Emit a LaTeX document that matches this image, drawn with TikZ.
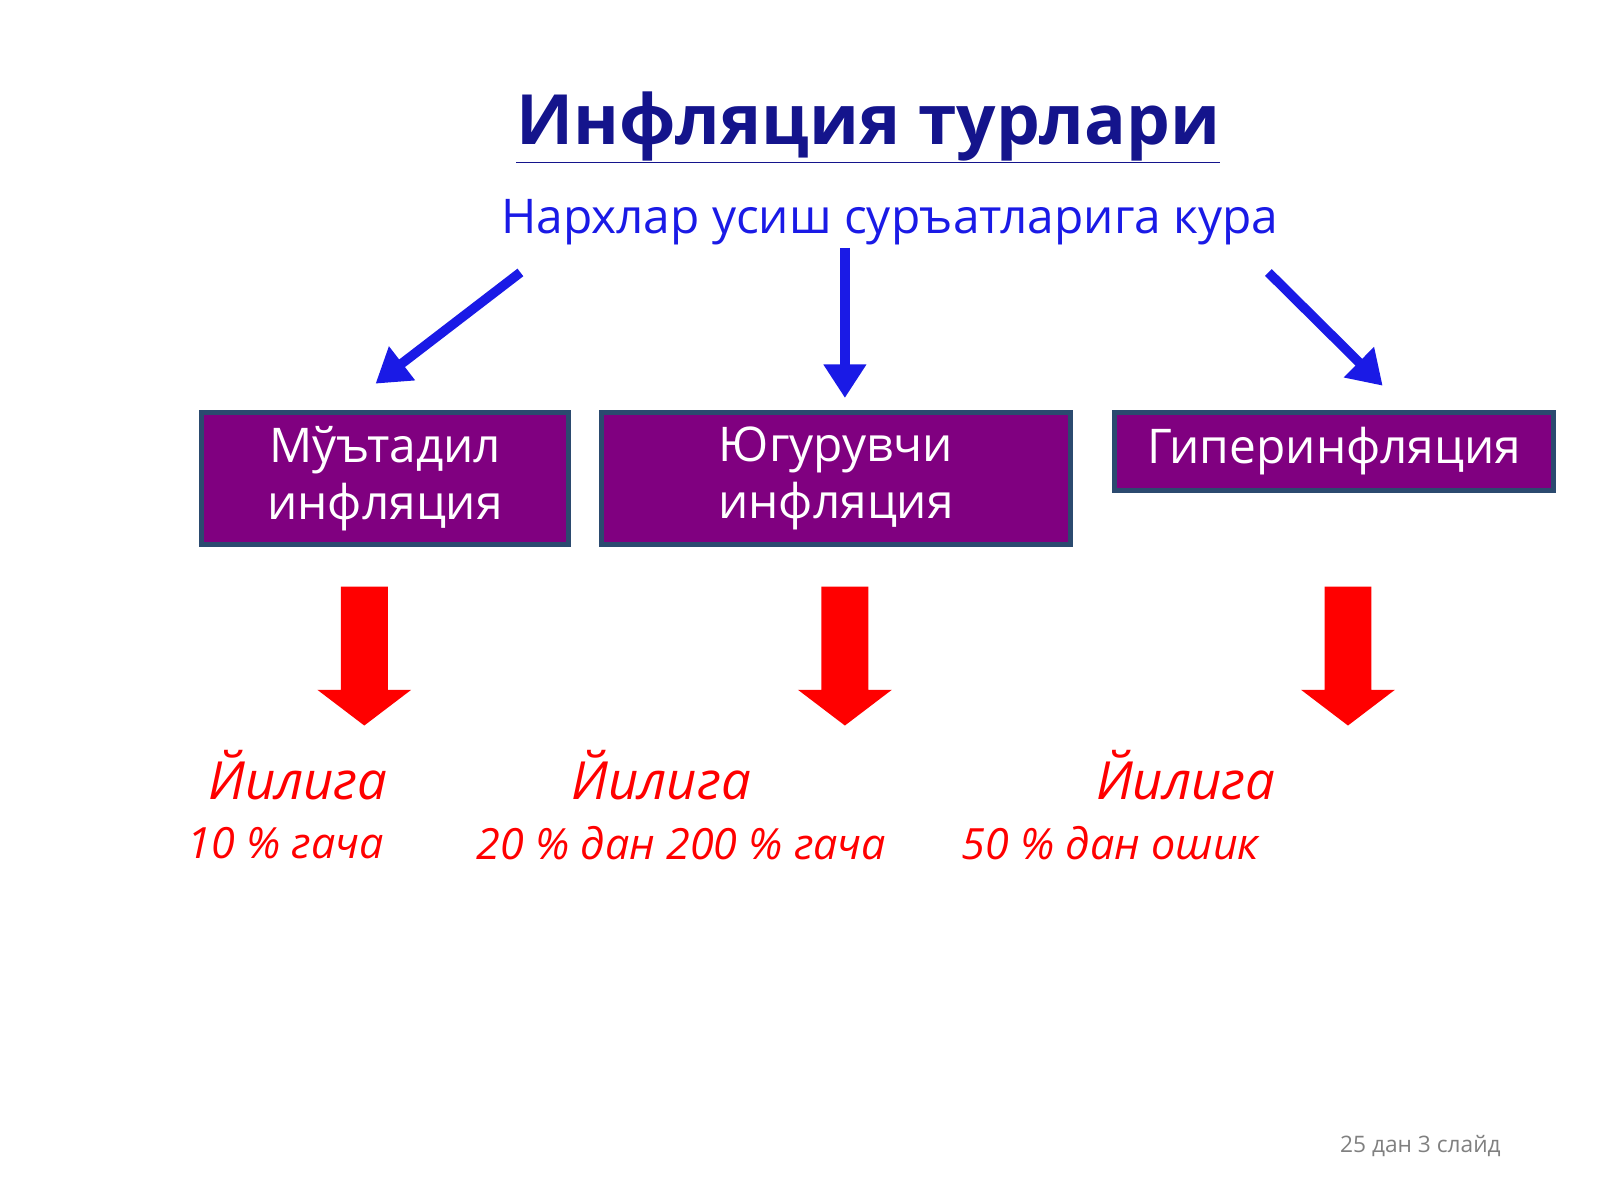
\documentclass[tikz,border=0pt]{standalone}
\usepackage{fontspec}
\setmainfont{Open Sans}
\usetikzlibrary{arrows.meta}
\definecolor{ttl}{HTML}{14148C}
\definecolor{sub}{HTML}{1A1AE6}
\definecolor{pur}{HTML}{800080}
\definecolor{brd}{HTML}{2B4A6F}
\begin{document}
\begin{tikzpicture}[x=0.03cm,y=-0.03cm,
  box/.style={draw=brd,line width=4pt,fill=pur,text=white,font=\fontsize{40}{48}\selectfont,align=center,anchor=north west},
  barr/.style={draw=sub,line width=8pt,-{Triangle[length=28pt,width=34pt]}},
  red/.style={fill=red,draw=none},
  rt/.style={text=red,font=\itshape\fontsize{44}{50}\selectfont},
  rs/.style={text=red,font=\itshape\fontsize{36}{42}\selectfont}]
\useasboundingbox (0,0) rectangle (1568,1176);
\node[text=ttl,font=\bfseries\fontsize{58}{64}\selectfont] (title) at (851,125) {\underline{Инфляция турлари}};
\node[text=sub,font=\fontsize{40}{48}\selectfont] (sub) at (872,218) {Нархлар усиш суръатларига кура};
\coordinate (a1s) at (510,267); \coordinate (a1e) at (368,376);
\coordinate (a2s) at (828,243); \coordinate (a2e) at (828,390);
\coordinate (a3s) at (1243,267); \coordinate (a3e) at (1355,378);
\draw[barr] (a1s) -- (a1e);
\draw[barr] (a2s) -- (a2e);
\draw[barr] (a3s) -- (a3e);
\node[box,minimum width=360*0.03cm,minimum height=129*0.03cm] (b1) at (195,402) {Мўътадил\\инфляция};
\node[box,minimum width=460*0.03cm,minimum height=129*0.03cm] (b2) at (587,402) {Югурувчи\\инфляция};
\node[box,minimum width=430*0.03cm,minimum height=76*0.03cm] (b3) at (1090,402) {Гиперинфляция};
\foreach \c in {357,828,1321}{
  \fill[red] (\c-23,575) -- (\c+23,575) -- (\c+23,676) -- (\c+46,676) -- (\c,711) -- (\c-46,676) -- (\c-23,676) -- cycle;
}
\node[rt] (y1) at (292,760) {Йилига};
\node[rs] (p1) at (280,826) {10 \% гача};
\node[rt] (y2) at (648,760) {Йилига};
\node[rs] (p2) at (668,826) {20 \% дан 200 \% гача};
\node[rt] (y3) at (1162,760) {Йилига};
\node[rs] (p3) at (1088,826) {50 \% дан ошик};
\node[text=gray,font=\fontsize{19}{22}\selectfont] (ft) at (1392,1123) {25 дан 3 слайд};
\end{tikzpicture}
\end{document}
